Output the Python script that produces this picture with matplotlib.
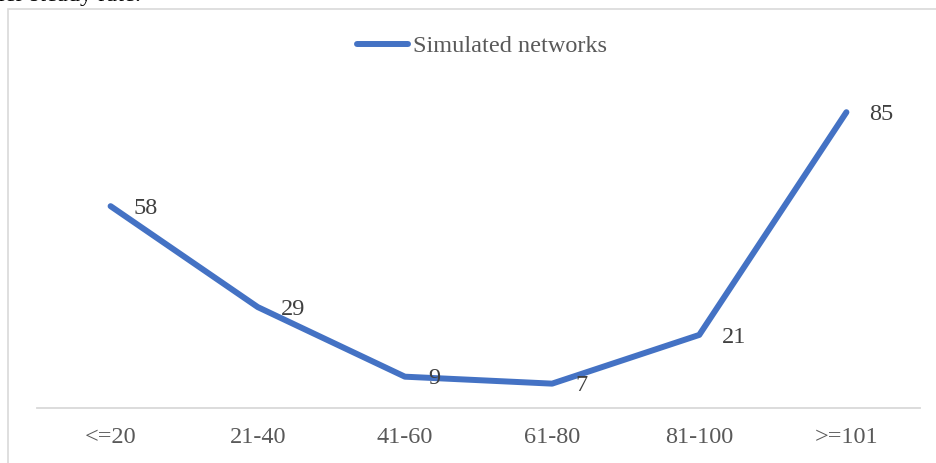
import matplotlib.pyplot as plt
from matplotlib.patches import Rectangle

# Network counts per size bin
categories = ["<=20", "21-40", "41-60", "61-80", "81-100", ">=101"]
networks = [58, 29, 9, 7, 21, 85]

plt.rcParams['font.family'] = ['Liberation Serif', 'DejaVu Serif']

W, H = 937, 463
fig = plt.figure(figsize=(W / 100, H / 100), dpi=100)

# chart frame (box continues past the right and bottom edges)
fig.patches.append(Rectangle((8 / W, -0.1), 1.2, 1 - 9 / H + 0.1, transform=fig.transFigure,
                             fill=False, edgecolor='#D9D9D9', linewidth=1.2))
# tail of the body text above the chart
fig.text(-2 / W, 1 - 1.5 / H, "ler steady rate.", fontsize=17.5, color='black', va='baseline', ha='left')

ax = fig.add_axes([37 / W, (H - 408) / H, (920 - 37) / W, (408 - 60) / H])
x = list(range(len(categories)))
line, = ax.plot(x, networks, color='#4472C4', linewidth=4.3, solid_capstyle='round',
                solid_joinstyle='round', label='Simulated networks')
ax.set_xlim(-0.5, len(categories) - 0.5)
ax.set_ylim(0, 100)

for xi, v in zip(x, networks):
    ax.annotate(str(v), (xi, v), xytext=(16.5, -1.5), textcoords='offset points',
                ha='left', va='center', fontsize=17.5, color='#404040')

ax.set_xticks(x)
ax.set_xticklabels(categories, fontsize=17.5, color='#595959')
ax.tick_params(axis='x', length=0, pad=13.5)
ax.set_yticks([])
for s in ['top', 'right', 'left']:
    ax.spines[s].set_visible(False)
ax.spines['bottom'].set_color('#D9D9D9')
ax.spines['bottom'].set_linewidth(1.3)

fig.legend(handles=[line], loc='center', bbox_to_anchor=(482 / W, 1 - 46 / H), frameon=False,
           fontsize=17.5, labelcolor='#595959', handlelength=2.1, handletextpad=0.2)

fig.savefig('out.png', dpi=100)
